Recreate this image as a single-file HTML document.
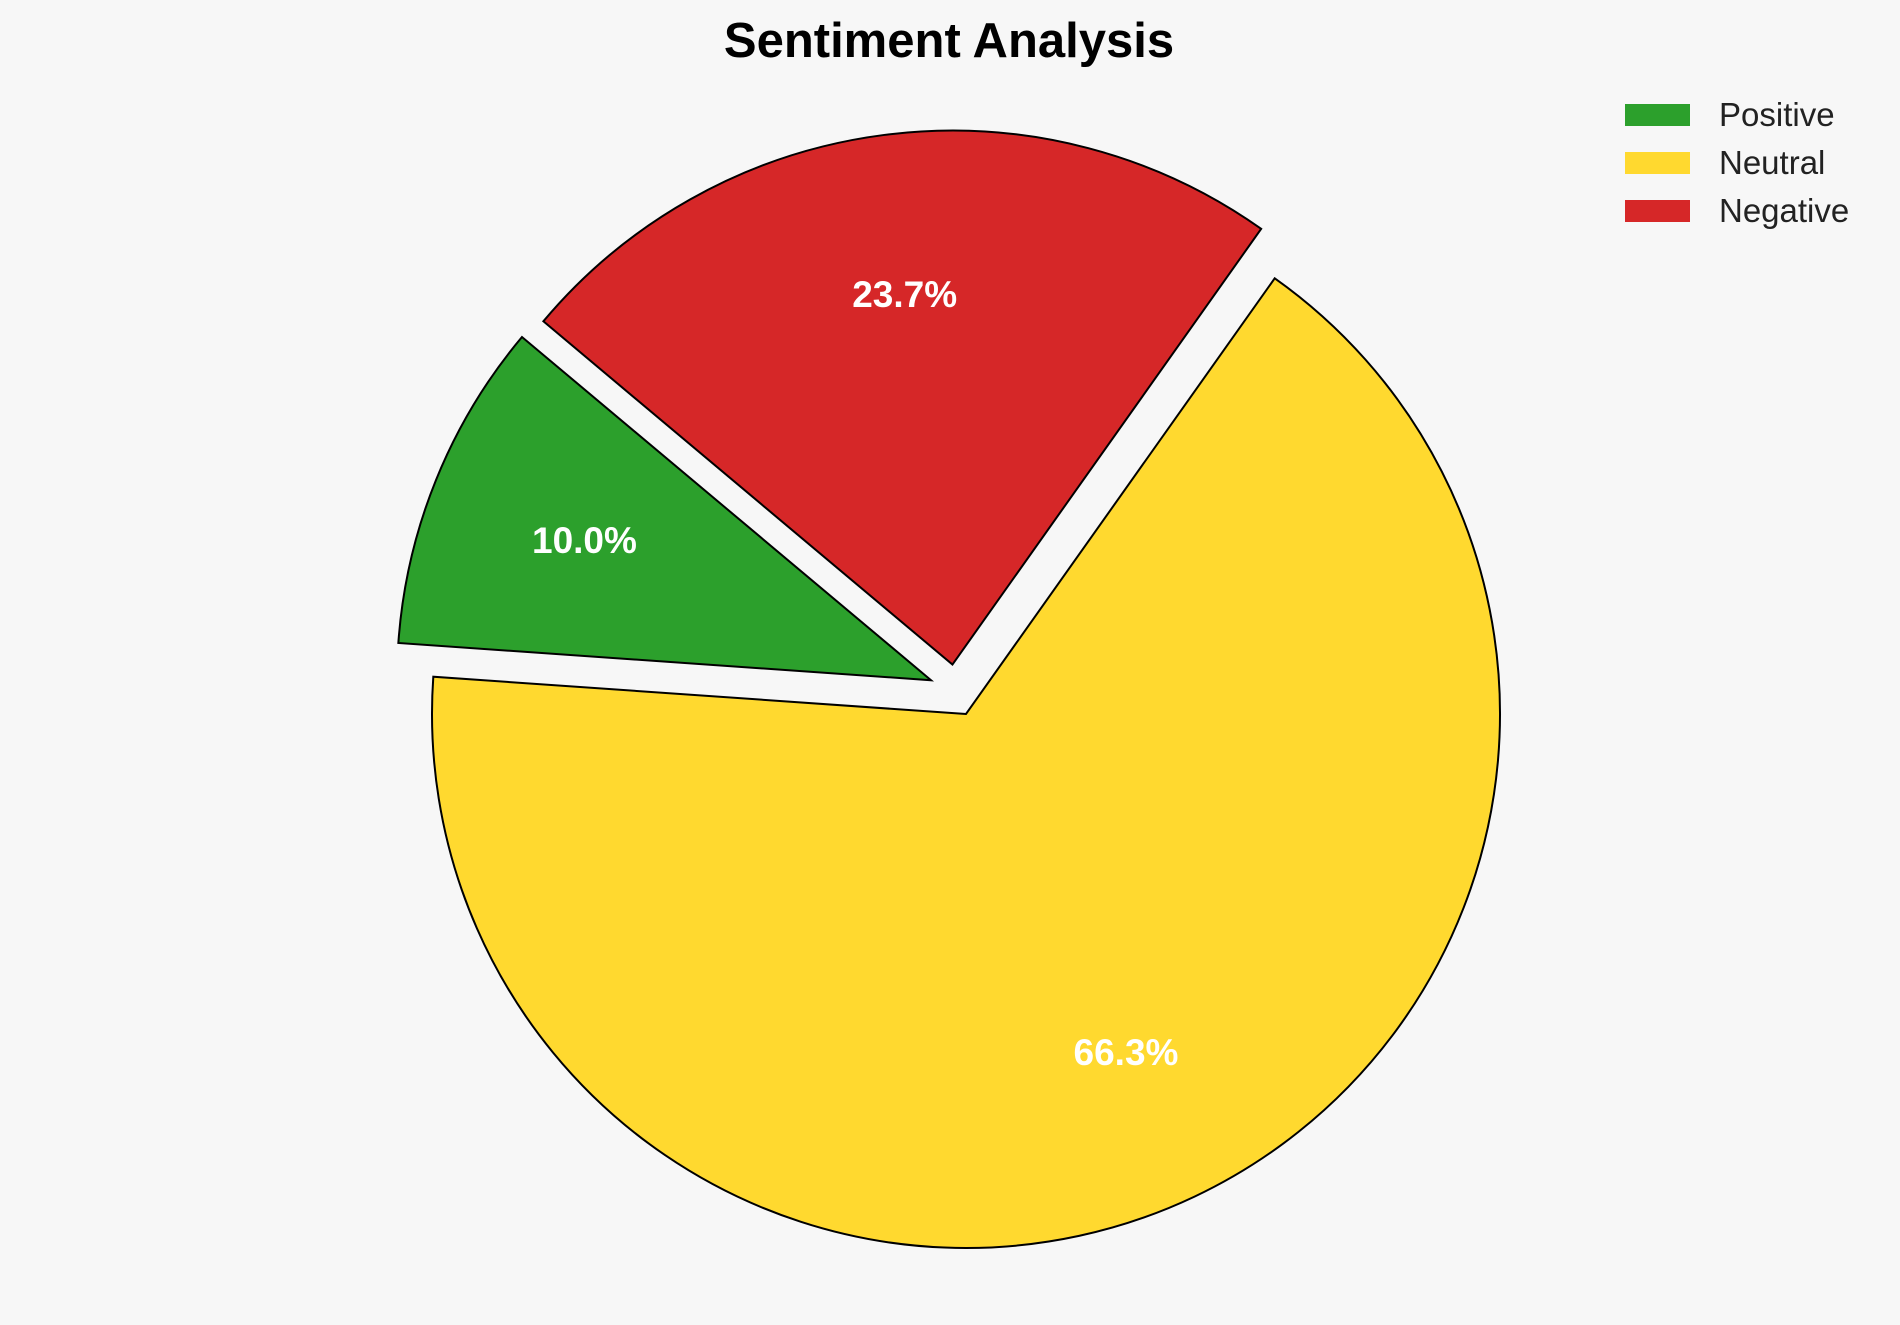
<!DOCTYPE html>
<html><head><meta charset="utf-8"><style>
html,body{margin:0;padding:0;background:#f7f7f7;}
svg{display:block;font-family:"Liberation Sans",Arial,sans-serif;}
</style></head><body>
<svg id="chart" width="1900" height="1325" viewBox="0 0 1900 1325">
<rect width="1900" height="1325" fill="#f7f7f7"/>
<text x="949" y="57" text-anchor="middle" font-size="49" font-weight="bold" fill="#000">Sentiment Analysis</text>
<g id="slices"></g>
<g id="legend"></g>
</svg>
<script>
const categories = ["Positive", "Neutral", "Negative"];
const values = [10.0, 66.3, 23.7];
const explode = [0.091, 0, 0.096];
const colors = ["#2ca02c", "#ffd92f", "#d62728"];
const explodeDirShift = [-22, 0, 8];
const startAngle = 140;
const cx = 966, cy = 714, R = 534, pctDist = 0.7;
const NS = "http://www.w3.org/2000/svg";
const total = values.reduce((a,b)=>a+b,0);
const gS = document.getElementById("slices");
const gL = document.getElementById("legend");
function pt(x,y,r,deg){const a=deg*Math.PI/180;return [x+r*Math.cos(a), y-r*Math.sin(a)];}
let a0 = startAngle;
values.forEach((v,i)=>{
  const sweep = v/total*360, a1 = a0+sweep, mid = (a0+a1)/2;
  const [ox,oy] = pt(cx,cy,explode[i]*R,mid+explodeDirShift[i]);
  const [x0,y0] = pt(ox,oy,R,a0), [x1,y1] = pt(ox,oy,R,a1);
  const large = sweep>180?1:0;
  const p = document.createElementNS(NS,"path");
  p.setAttribute("d",`M${ox},${oy} L${x0},${y0} A${R},${R} 0 ${large} 0 ${x1},${y1} Z`);
  p.setAttribute("fill",colors[i]);p.setAttribute("stroke","#000");p.setAttribute("stroke-width","2");
  
  
  gS.appendChild(p);
  const [lx,ly] = pt(ox,oy,R*pctDist,mid);
  const t = document.createElementNS(NS,"text");
  t.setAttribute("x",lx);t.setAttribute("y",ly+13);t.setAttribute("text-anchor","middle");
  t.setAttribute("font-size","37");t.setAttribute("font-weight","bold");t.setAttribute("fill","#fff");
  t.textContent = v.toFixed(1)+"%";
  
  
  gS.appendChild(t);
  a0 = a1;
});
categories.forEach((c,i)=>{
  const y = 115 + i*48;
  const r = document.createElementNS(NS,"rect");
  r.setAttribute("x",1625);r.setAttribute("y",y-11);r.setAttribute("width",65);r.setAttribute("height",22);
  r.setAttribute("fill",colors[i]);
  
  
  gL.appendChild(r);
  const t = document.createElementNS(NS,"text");
  t.setAttribute("x",1719);t.setAttribute("y",y+11);t.setAttribute("font-size","33");t.setAttribute("fill","#222");
  t.textContent = c;
  
  
  gL.appendChild(t);
});
</script>
</body></html>
